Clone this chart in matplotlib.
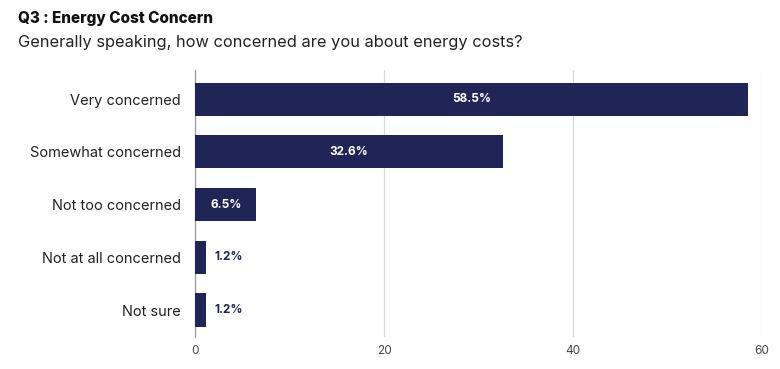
import matplotlib
matplotlib.use("Agg")
import matplotlib.pyplot as plt

categories = ["Very concerned", "Somewhat concerned", "Not too concerned", "Not at all concerned", "Not sure"]
values = [58.5, 32.6, 6.5, 1.2, 1.2]
value_labels = ["58.5%", "32.6%", "6.5%", "1.2%", "1.2%"]
xticks = [0, 20, 40, 60]

navy = "#1f2657"
plt.rcParams['font.family'] = ['Inter', 'DejaVu Sans']

fig = plt.figure(figsize=(7.8, 3.69), dpi=100)
ax = fig.add_axes([0.25, 0.0867, 0.727, 0.7233])

y = list(range(len(categories)))
ax.barh(y, values, height=0.63, color=navy, zorder=3)
ax.set_ylim(4.51, -0.55)
ax.set_xlim(0, 60)
ax.set_xticks(xticks)
ax.set_xticklabels([str(t) for t in xticks], fontsize=8.5, color="#444444")
ax.set_yticks(y)
ax.set_yticklabels(categories, fontsize=10.5, color="#222222")
ax.tick_params(axis='both', length=0)
ax.tick_params(axis='y', pad=10)
ax.tick_params(axis='x', pad=6)
ax.grid(axis='x', color="#d9d9d9", linewidth=0.9, zorder=0)
for s in ["top", "right", "bottom"]:
    ax.spines[s].set_visible(False)
ax.spines["left"].set_color("#999999")
ax.spines["left"].set_linewidth(0.9)

for yi, v, lab in zip(y, values, value_labels):
    if v > 4:
        ax.text(v / 2, yi, lab, ha="center", va="center", color="white",
                fontsize=8.5, fontweight="bold", zorder=4)
    else:
        ax.text(v + 0.9, yi, lab, ha="left", va="center", color=navy,
                fontsize=8.5, fontweight="bold", zorder=4)

fig.text(0.023, 0.95, "Q3 : Energy Cost Concern", fontsize=11, fontweight="heavy",
         color="#111111", va="center", ha="left")
fig.text(0.023, 0.885, "Generally speaking, how concerned are you about energy costs?",
         fontsize=11.8, color="#222222", va="center", ha="left")

fig.savefig("out.png", dpi=100, facecolor="white")
